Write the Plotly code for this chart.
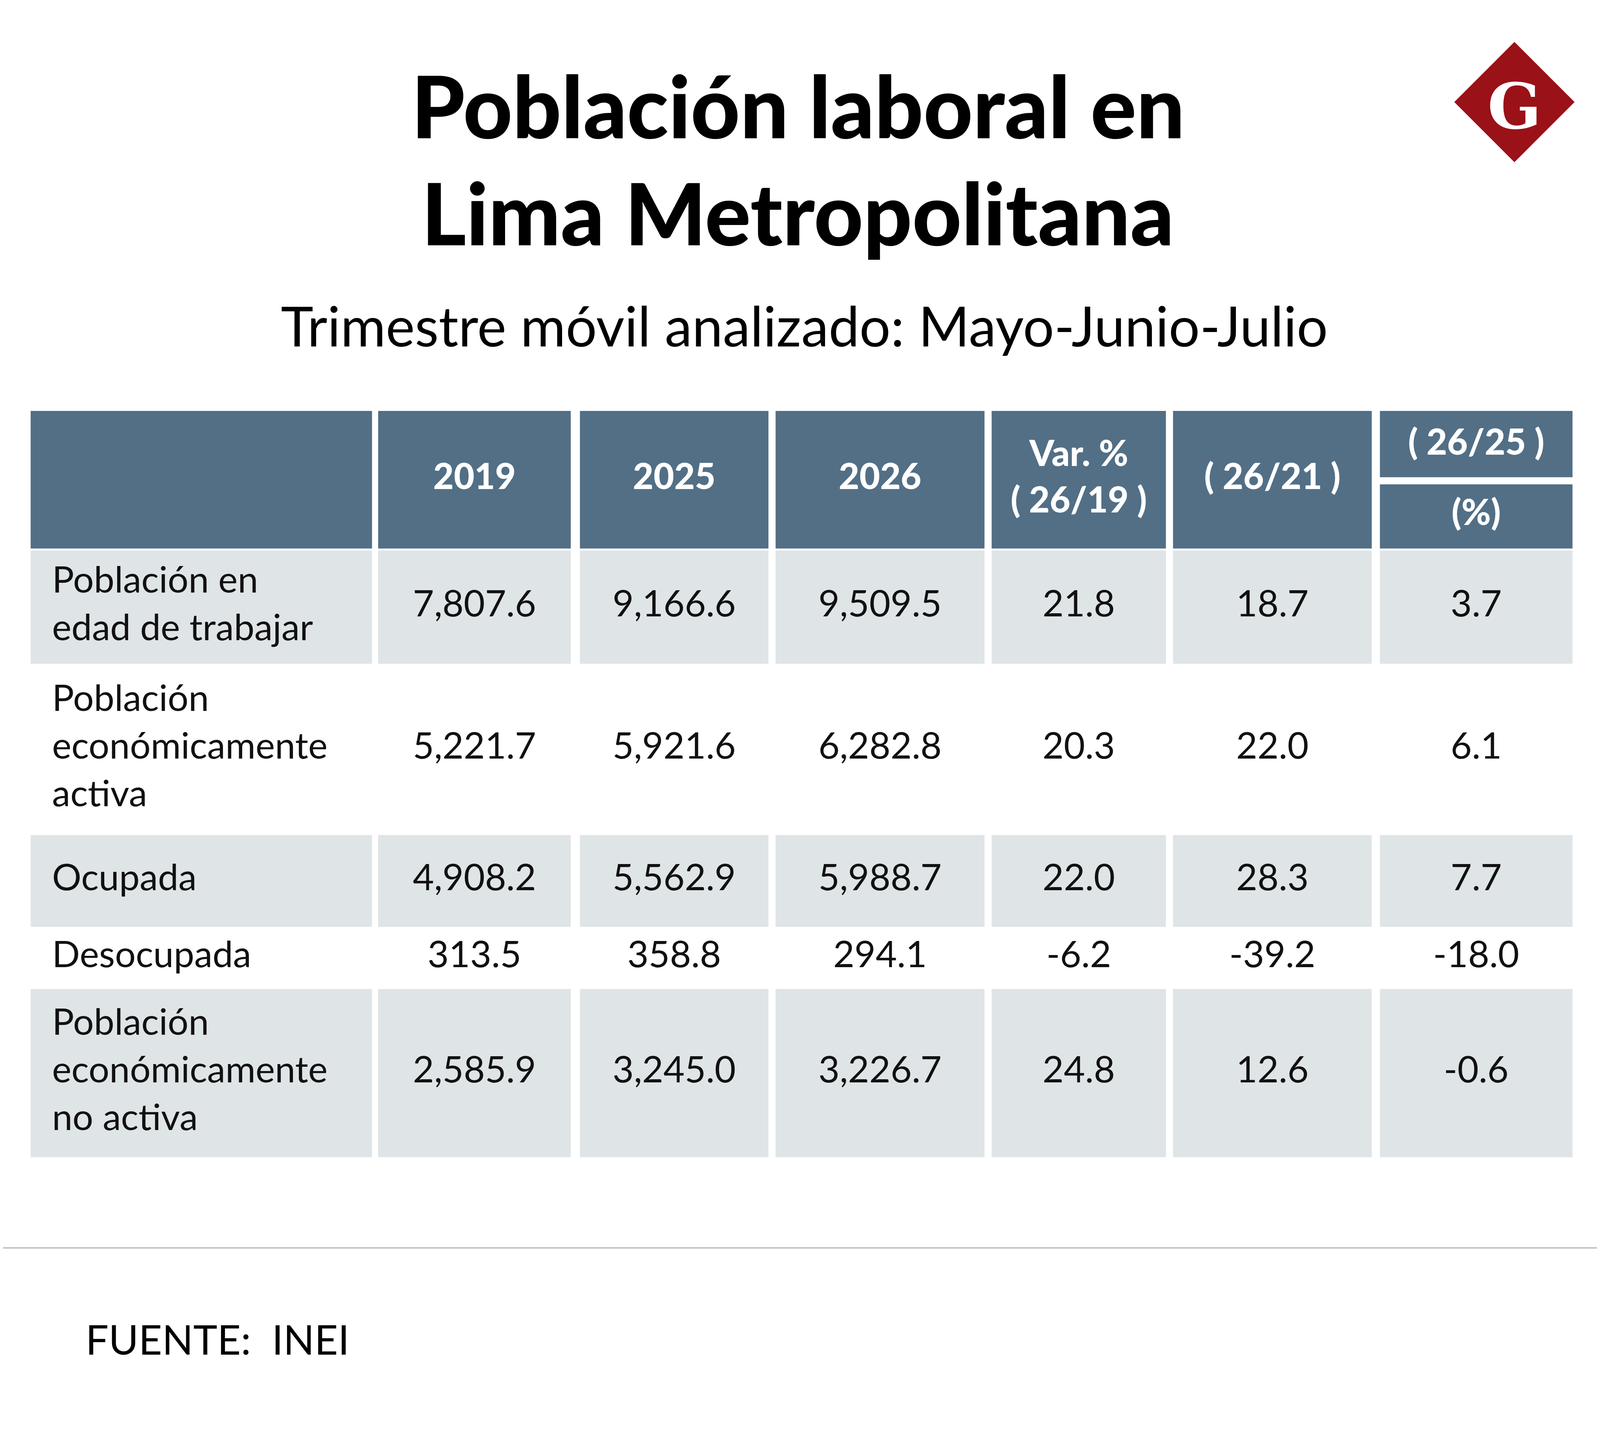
import plotly.graph_objects as go

K = 1.0145  # rendering correction observed
S = 4150 / 1568 / K  # reference drawn on a 1568-wide grid

title_lines = ["Población laboral en", "Lima Metropolitana"]
subtitle = "Trimestre móvil analizado: Mayo-Junio-Julio"
source = "FUENTE:  INEI"

headers = ["2019", "2025", "2026", "Var. %<br>( 26/19 )", "( 26/21 )", "( 26/25 )"]
row_labels = ["Población en<br>edad de trabajar",
              "Población<br>económicamente<br>activa",
              "Ocupada", "Desocupada",
              "Población<br>económicamente<br>no activa"]
v2019 = ["7,807.6", "5,221.7", "4,908.2", "313.5", "2,585.9"]
v2025 = ["9,166.6", "5,921.6", "5,562.9", "358.8", "3,245.0"]
v2026 = ["9,509.5", "6,282.8", "5,988.7", "294.1", "3,226.7"]
var_26_19 = ["21.8", "20.3", "22.0", "-6.2", "24.8"]
var_26_21 = ["18.7", "22.0", "28.3", "-39.2", "12.6"]
var_26_25 = ["3.7", "6.1", "7.7", "-18.0", "-0.6"]

# layout grid (reference pixel grid)
col_x = [(27, 362), (368, 557), (566, 751), (758, 963), (970, 1141), (1148, 1343), (1351, 1540)]
row_y = [(537, 648), (650, 814), (816, 906), (908, 965), (967, 1132)]
shaded = [True, False, True, False, True]
HEAD = "#526f86"
GRAY = "#dfe4e7"

fig = go.Figure()
shapes = []
for c, (x0, x1) in enumerate(col_x):
    if c == 6:
        shapes.append(dict(type="rect", x0=x0, x1=x1, y0=400, y1=465, fillcolor=HEAD, line_width=0, layer="below"))
        shapes.append(dict(type="rect", x0=x0, x1=x1, y0=472, y1=535, fillcolor=HEAD, line_width=0, layer="below"))
    else:
        shapes.append(dict(type="rect", x0=x0, x1=x1, y0=400, y1=535, fillcolor=HEAD, line_width=0, layer="below"))
    for r, (y0, y1) in enumerate(row_y):
        if shaded[r]:
            shapes.append(dict(type="rect", x0=x0, x1=x1, y0=y0, y1=y1, fillcolor=GRAY, line_width=0, layer="below"))
shapes.append(dict(type="line", x0=0, x1=1568, y0=1221, y1=1221, line=dict(color="#b5b5b5", width=3), layer="below"))
# logo diamond
cx, cy, h = 1483, 97, 59
shapes.append(dict(type="path", path=f"M {cx},{cy-h} L {cx+h},{cy} L {cx},{cy+h} L {cx-h},{cy} Z",
                   fillcolor="#9b1118", line_width=0, layer="below"))

centers_x = [(a + b) / 2 for a, b in col_x]
centers_y = [(a + b) / 2 for a, b in row_y]
body_font = dict(family="Lato", size=36 * S, color="#111111")
head_font = dict(family="Lato", size=35 * S, color="white", weight=900)

# header texts
hx = centers_x[1:]
hy = [468, 468, 468, 468, 468, 434]
fig.add_trace(go.Scatter(x=hx, y=hy, mode="text", text=headers,
                         textfont=head_font, hoverinfo="skip"))
fig.add_trace(go.Scatter(x=[centers_x[6]], y=[503], mode="text", text=["(%)"],
                         textfont=head_font, hoverinfo="skip"))

# body values
for c, col in enumerate([v2019, v2025, v2026, var_26_19, var_26_21, var_26_25]):
    fig.add_trace(go.Scatter(x=[centers_x[c + 1]] * len(col), y=centers_y, mode="text",
                             text=col, textfont=body_font, hoverinfo="skip"))
fig.add_trace(go.Scatter(x=[48] * len(row_labels), y=centers_y, mode="text", text=row_labels,
                         textposition="middle right", textfont=body_font, hoverinfo="skip"))

title_font = dict(family="Lato", size=84 * S, color="black", weight=900)
annotations = [
    dict(x=780, y=100, text=title_lines[0], showarrow=False, font=title_font),
    dict(x=780, y=205, text=title_lines[1], showarrow=False, font=title_font),
    dict(x=786, y=316, text=subtitle, showarrow=False,
         font=dict(family="Lato", size=54 * S, color="black")),
    dict(x=80, y=1310, text=source, showarrow=False, xanchor="left",
         font=dict(family="Lato", size=40 * S, color="black")),
    dict(x=cx, y=cy + 4, text="<b>G</b>", showarrow=False,
         font=dict(family="DejaVu Serif", size=62 * S, color="white")),
]

fig.update_layout(
    width=4150, height=3707, margin=dict(l=0, r=0, t=0, b=0),
    paper_bgcolor="white", plot_bgcolor="white", showlegend=False,
    xaxis=dict(range=[0, 1568 * K], visible=False, fixedrange=True),
    yaxis=dict(range=[1400 * K, 0], visible=False, fixedrange=True),
    shapes=shapes, annotations=annotations,
)
fig.write_html("out.html")
